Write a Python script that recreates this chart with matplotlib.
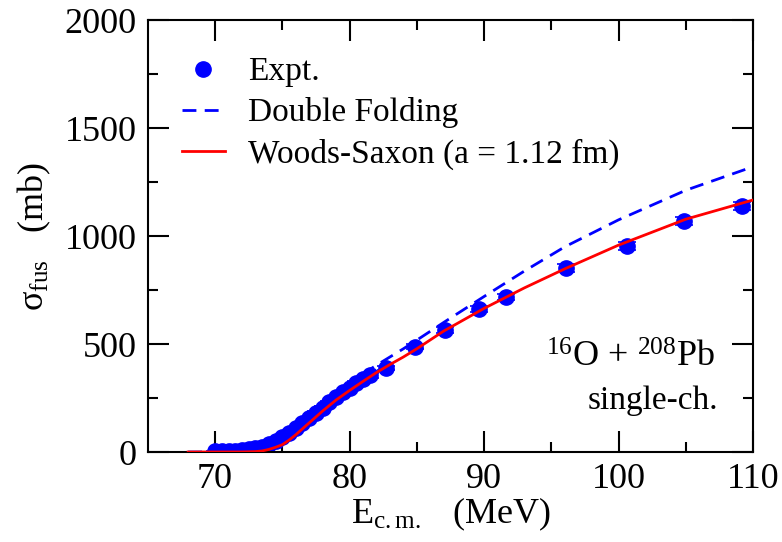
import numpy as np
import matplotlib
matplotlib.use('Agg')
import matplotlib.pyplot as plt
from matplotlib.lines import Line2D

plt.rcParams['font.family'] = ['Liberation Serif', 'DejaVu Serif']
plt.rcParams['mathtext.fontset'] = 'custom'
plt.rcParams['mathtext.rm'] = 'Liberation Serif'
plt.rcParams['mathtext.it'] = 'Liberation Serif:italic'

# experimental points
e_expt = [70.0, 70.5, 71.0, 71.5, 72.0, 72.5, 73.0, 73.5, 74.0, 74.5, 75.0, 75.5,
          76.0, 76.5, 77.0, 77.5, 78.0, 78.5, 79.0, 79.5, 80.0, 80.5, 81.0, 81.5,
          82.7, 84.9, 87.1, 89.6, 91.6, 96.1, 100.6, 104.9, 109.2]
sig_expt = [3, 4, 5, 7, 9, 13, 18, 25, 36, 50, 70, 90,
            112, 135, 158, 182, 206, 230, 253, 276, 298, 319, 338, 355,
            388, 487, 565, 662, 718, 852, 954, 1069, 1139]
err_expt = [1, 1, 1, 1, 1, 1, 1, 2, 2, 3, 3, 4,
            4, 5, 5, 6, 6, 7, 7, 8, 8, 9, 9, 10,
            10, 12, 13, 14, 15, 17, 18, 19, 20]

# double folding
e_df = [68, 72, 73, 74, 75, 76, 77, 78, 79, 80, 81, 82, 83, 84, 85, 87, 90,
        93, 96, 100, 105, 110]
sig_df = [0, 0.5, 3, 20, 62, 118, 172, 224, 272, 318, 362, 402, 440, 478, 518,
          600, 720, 838, 950, 1075, 1212, 1321]

# woods-saxon a = 1.12 fm
e_ws = [68, 72, 73, 73.5, 74, 74.5, 75, 75.5, 76, 77, 78, 79, 80, 81, 82, 83,
        84, 85, 87, 90, 93, 96, 100, 105, 110]
sig_ws = [0, 0.5, 2, 5, 12, 22, 34, 55, 80, 135, 190, 241, 285, 327, 368, 405,
          440, 478, 560, 665, 760, 848, 958, 1078, 1167]

fig = plt.figure(figsize=(7.82, 5.42), dpi=100)
ax = fig.add_axes([0.189, 0.166, 0.774, 0.797])

ax.errorbar(e_expt, sig_expt, yerr=err_expt, fmt='o', color='#0000ff', ms=11,
            capsize=6.5, elinewidth=1.2, capthick=1.2, zorder=2)
l_df, = ax.plot(e_df, sig_df, '--', color='#0000ff', lw=2, dashes=(5, 3),
                zorder=3)
l_ws, = ax.plot(e_ws, sig_ws, '-', color='#ff0000', lw=2, zorder=4)

ax.set_xlim(65, 110)
ax.set_ylim(0, 2000)
ax.set_xticks([70, 80, 90, 100, 110])
ax.set_xticks([75, 85, 95, 105], minor=True)
ax.set_yticks([0, 500, 1000, 1500, 2000])
ax.set_yticks([250, 750, 1250, 1750], minor=True)
ax.tick_params(which='both', direction='in', top=True, right=True, width=1.5,
               labelsize=26, pad=8)
ax.tick_params(which='major', length=15)
ax.tick_params(which='minor', length=7.5)
for s in ax.spines.values():
    s.set_linewidth(1.5)

ax.set_xlabel(r'E$_{\mathrm{c.m.}}$   (MeV)', fontsize=26, labelpad=0)
ax.set_ylabel('σ$_{\\mathrm{fus}}$   (mb)', fontsize=26, labelpad=8)

dot = Line2D([], [], ls='none', marker='o', color='#0000ff', ms=11)
ax.legend([dot, l_df, l_ws], ['Expt.', 'Double Folding', 'Woods-Saxon (a = 1.12 fm)'],
          loc='upper left', frameon=False, fontsize=24, handlelength=1.3,
          handletextpad=0.7, labelspacing=0.3, borderaxespad=0.0, borderpad=0.0,
          bbox_to_anchor=(0.056, 0.915))

ax.text(0.936, 0.197, r'$^{16}$O + $^{208}$Pb', transform=ax.transAxes,
        fontsize=26, ha='right', va='baseline')
ax.text(0.943, 0.099, 'single-ch.', transform=ax.transAxes,
        fontsize=24, ha='right', va='baseline')

plt.savefig('out.png', dpi=100)
